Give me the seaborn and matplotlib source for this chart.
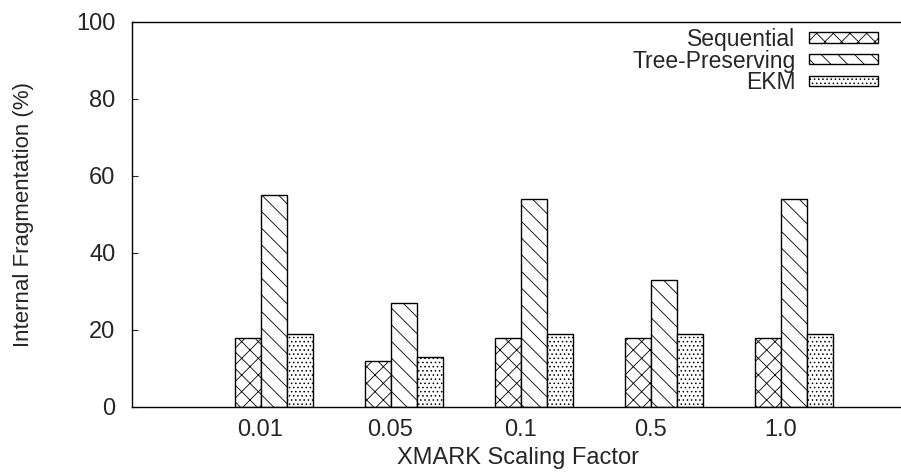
import pandas as pd
import numpy as np
import matplotlib
matplotlib.use("Agg")
import matplotlib.pyplot as plt
import matplotlib.transforms as mtransforms
import seaborn as sns

# data
factors = ["0.01", "0.05", "0.1", "0.5", "1.0"]
sequential = [18, 12, 18, 18, 18]
tree_preserving = [55, 27, 54, 33, 54]
ekm = [19, 13, 19, 19, 19]
methods = ["Sequential", "Tree-Preserving", "EKM"]
hatches = ["xx", "\\\\", "...."]

df = pd.DataFrame({
    "factor": factors * 3,
    "method": [m for m in methods for _ in factors],
    "value": sequential + tree_preserving + ekm,
})

sns.set_style("ticks")
plt.rcParams["font.family"] = ["Liberation Sans", "DejaVu Sans"]
plt.rcParams["hatch.linewidth"] = 0.6

fig = plt.figure(figsize=(9.01, 4.74), dpi=100)
ax = fig.add_axes([0.1465, 0.1414, 0.8535, 0.8122])

sns.barplot(data=df, x="factor", y="value", hue="method", order=factors,
            hue_order=methods, palette=["white"] * 3, edgecolor="black",
            linewidth=1.0, width=0.6, saturation=1, legend=False, ax=ax)

for cont, h in zip(ax.containers, hatches):
    for p in cont:
        p.set_hatch(h)

ax.set_xlim(-1.09, 4.82)
ax.set_ylim(0, 100)
ax.set_yticks([0, 20, 40, 60, 80, 100])

for side in ["left", "bottom", "top"]:
    ax.spines[side].set_linewidth(1.0)
    ax.spines[side].set_color("black")
ax.spines["right"].set_visible(False)

ax.tick_params(axis="y", direction="in", length=4.5, width=0.8, pad=12, labelsize=17)
ax.tick_params(axis="x", length=0, pad=9, labelsize=17)

# gnuplot places the category labels a bit left of the bar groups
shift = mtransforms.ScaledTranslation(-0.14, 0, fig.dpi_scale_trans)
for lbl in ax.get_xticklabels():
    lbl.set_transform(lbl.get_transform() + shift)

ax.set_xlabel("XMARK Scaling Factor", fontsize=17)
ax.set_ylabel("Internal Fragmentation (%)", fontsize=16)
ax.xaxis.set_label_coords(0.502, -0.105)
ax.yaxis.set_label_coords(-0.127, 0.5)

ax.legend(ax.containers, methods, loc="upper right", bbox_to_anchor=(0.970, 0.985),
          frameon=False, fontsize=16.5, markerfirst=False, handlelength=3.0,
          handleheight=0.3, handletextpad=0.6, labelspacing=-0.05,
          borderaxespad=0, borderpad=0)

fig.savefig("out.png", dpi=100)
